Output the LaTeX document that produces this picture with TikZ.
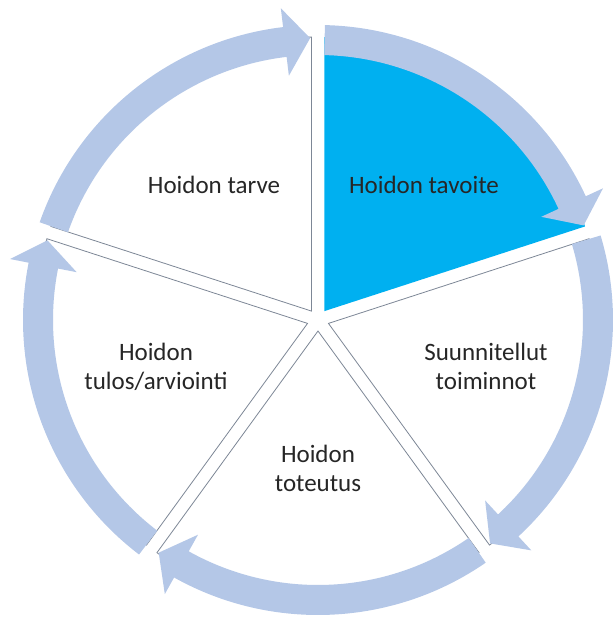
\documentclass[tikz,border=0pt]{standalone}
\usepackage{fontspec}
\setmainfont{Carlito}
\definecolor{arrowblue}{HTML}{B4C7E7}
\definecolor{goalblue}{HTML}{00B0F0}
\definecolor{edgegray}{RGB}{125,135,150}
\definecolor{txtcol}{HTML}{262626}
\begin{document}
\begin{tikzpicture}[
  wedge/.style={fill=white, draw=edgegray, line width=0.8pt},
  goalwedge/.style={fill=goalblue, draw=none},
  cyclearrow/.style={fill=arrowblue, draw=none},
  txtlabel/.style={font=\fontsize{25}{29}\selectfont, text=txtcol, align=center, inner sep=0pt}
]
\useasboundingbox (-318pt,-299pt) rectangle (297pt,320pt);

% wedges (exploded pie)
\foreach \bA in {162,18,-54,-126} {
  \pgfmathsetmacro{\mA}{\bA-36}
  \pgfmathsetmacro{\eA}{\bA-72}
  \draw[wedge, shift={(\mA:11pt)}] (0,0) -- (\bA:274pt)
    arc[start angle=\bA, end angle=\eA, radius=274pt] -- cycle;
}
\fill[goalwedge, shift={(54:11pt)}] (0,0) -- (90:274pt)
  arc[start angle=90, end angle=18, radius=274pt] -- cycle;

% circular arrows
\foreach \bA in {162,90,18,-54,-126} {
  \pgfmathsetmacro{\tA}{\bA-1.35}
  \pgfmathsetmacro{\pA}{\bA-72+1.6}
  \pgfmathsetmacro{\hA}{\pA+5.2}
  \fill[cyclearrow] (\tA:295pt) arc[start angle=\tA, end angle=\hA, radius=295pt]
    -- (\hA:314pt) -- (\pA:282pt) -- (\hA:246pt) -- (\hA:265pt)
    arc[start angle=\hA, end angle=\tA, radius=265pt] -- cycle;
}

% texts
\node[txtlabel, anchor=base] (tarve) at (-104pt,127pt) {Hoidon tarve};
\node[txtlabel, anchor=base] (tavoite) at (106pt,127pt) {Hoidon tavoite};
\node[txtlabel] (suunn) at (168pt,-46.5pt) {Suunnitellut\\toiminnot};
\node[txtlabel] (toteutus) at (0pt,-148.5pt) {Hoidon\\toteutus};
\node[txtlabel] (tulos) at (-162pt,-46.5pt) {Hoidon\\tulos/arviointi};
\end{tikzpicture}
\end{document}
